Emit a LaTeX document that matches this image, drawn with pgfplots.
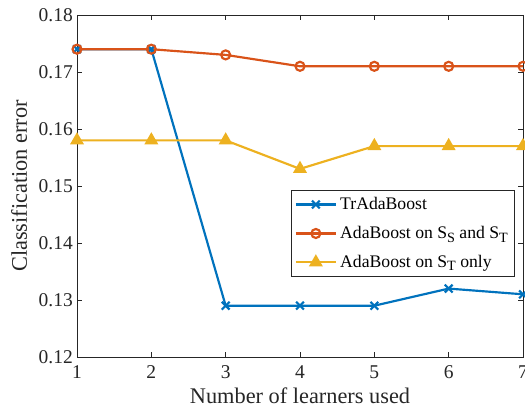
\documentclass[border=0pt]{standalone}
\usepackage{pgfplots}
\pgfplotsset{compat=1.18}
\usepackage{fontspec}
\setmainfont{Liberation Serif}
\definecolor{mblue}{rgb}{0,0.447,0.741}
\definecolor{morange}{rgb}{0.850,0.325,0.098}
\definecolor{myellow}{rgb}{0.929,0.694,0.125}
\definecolor{axgray}{rgb}{0.15,0.15,0.15}
\begin{document}
\begin{tikzpicture}
\begin{axis}[
  scale only axis,
  width=267.6pt, height=205.2pt,
  xmin=1, xmax=7, ymin=0.12, ymax=0.18,
  xtick={1,...,7},
  ytick={0.12,0.13,0.14,0.15,0.16,0.17,0.18},
  yticklabel style={/pgf/number format/fixed,/pgf/number format/precision=2,/pgf/number format/fixed zerofill, xshift=1pt},
  xticklabel style={yshift=-1.5pt},
  /pgf/number format/assume math mode=true,
  tick align=inside,
  major tick length=3pt,
  axis line style={axgray, line width=0.5pt},
  tick style={axgray, line width=0.5pt},
  every tick label/.append style={font=\fontsize{11.7}{13}\selectfont, text=axgray},
  xlabel={Number of learners used},
  ylabel={Classification error},
  label style={font=\fontsize{13.4}{15}\selectfont, text=axgray},
  xlabel style={yshift=1pt},
  ylabel style={yshift=0pt},
  legend style={at={(0.982,0.488)}, anchor=north east, draw=axgray, line width=0.5pt,
    font=\fontsize{10.6}{12}\selectfont, inner xsep=2pt, inner ysep=2pt, row sep=4.5pt},
  legend cell align=left,
  legend image code/.code={\draw[mark repeat=2,mark phase=2] plot coordinates {(0cm,0cm) (0.42cm,0cm) (0.84cm,0cm)};},
]
\coordinate (ll) at (rel axis cs:0,0);
\addplot[mblue, line width=1.3pt, mark=x, mark size=3.3pt, mark options={line width=1.3pt}] coordinates {
(1,0.174) (2,0.174) (3,0.129) (4,0.129) (5,0.129) (6,0.132) (7,0.131)};
\addlegendentry{TrAdaBoost}
\addplot[morange, line width=1.3pt, mark=o, mark size=2.7pt, mark options={fill=white, line width=1.3pt}] coordinates {
(1,0.174) (2,0.174) (3,0.173) (4,0.171) (5,0.171) (6,0.171) (7,0.171)};
\addlegendentry{AdaBoost on S\raisebox{-0.45ex}{\fontsize{8.5}{9}\selectfont S} and S\raisebox{-0.45ex}{\fontsize{8.5}{9}\selectfont T}}
\addplot[myellow, line width=1.3pt, mark=triangle*, mark size=3.6pt, mark options={fill=myellow}] coordinates {
(1,0.158) (2,0.158) (3,0.158) (4,0.153) (5,0.157) (6,0.157) (7,0.157)};
\addlegendentry{AdaBoost on S\raisebox{-0.45ex}{\fontsize{8.5}{9}\selectfont T} only}
\end{axis}
\pgfresetboundingbox
\path[use as bounding box] (ll) ++(-46.2pt,-33.6pt) rectangle ++(315pt,247.8pt);
\end{tikzpicture}
\end{document}
